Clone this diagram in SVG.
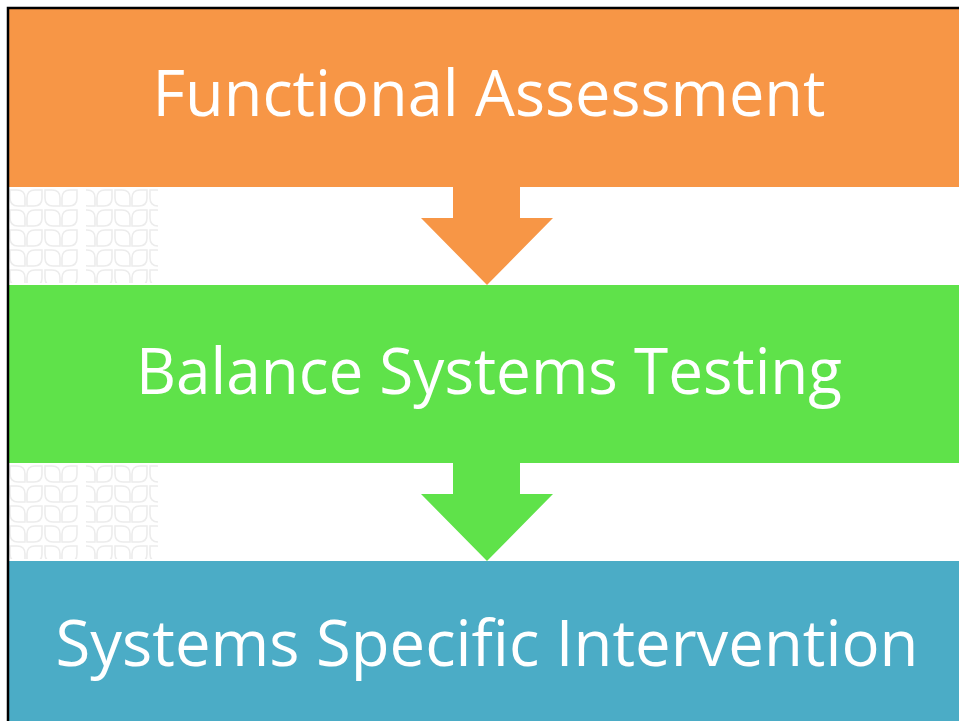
<svg xmlns="http://www.w3.org/2000/svg" width="959" height="721" viewBox="0 0 959 721">
  <style>
    .label { font-family: "Open Sans", "Noto Sans", "Liberation Sans", sans-serif; font-size: 64px; fill: #ffffff; text-anchor: middle; }
    .leaf { fill: none; stroke: #ececec; stroke-width: 1.6; }
  </style>
  <defs>
    <pattern id="leaves" x="9" y="188" width="35" height="20" patternUnits="userSpaceOnUse">
      <path class="leaf" d="M1,2 L8,2 Q16,2 16,10 L16,18 L9,18 Q1,18 1,10 Z"/>
      <path class="leaf" d="M18,10 Q18,2 26,2 L33,2 L33,10 Q33,18 25,18 L18,18 Z"/>
    </pattern>
    <pattern id="leaves2" x="9" y="464" width="35" height="20" patternUnits="userSpaceOnUse">
      <path class="leaf" d="M1,2 L8,2 Q16,2 16,10 L16,18 L9,18 Q1,18 1,10 Z"/>
      <path class="leaf" d="M18,10 Q18,2 26,2 L33,2 L33,10 Q33,18 25,18 L18,18 Z"/>
    </pattern>
  </defs>
  <rect width="959" height="721" fill="#ffffff"/>
  <rect x="9" y="188" width="70" height="95" fill="url(#leaves)"/>
  <rect x="86" y="188" width="72" height="95" fill="url(#leaves)"/>
  <rect x="9" y="464" width="70" height="95" fill="url(#leaves2)"/>
  <rect x="86" y="464" width="72" height="95" fill="url(#leaves2)"/>

  <g id="node-functional">
    <rect x="9" y="9" width="950" height="178" fill="#f79646"/>
    <text class="label" x="489" y="116" textLength="673" lengthAdjust="spacingAndGlyphs">Functional Assessment</text>
  </g>
  <g id="node-balance">
    <rect x="9" y="285" width="950" height="178" fill="#5fe24a"/>
    <text class="label" x="489" y="394" textLength="706" lengthAdjust="spacingAndGlyphs">Balance Systems Testing</text>
  </g>
  <g id="node-intervention">
    <rect x="9" y="561" width="950" height="160" fill="#4bacc6"/>
    <text class="label" x="487" y="666" textLength="863" lengthAdjust="spacingAndGlyphs">Systems Specific Intervention</text>
  </g>
  <g id="connectors">
    <polygon points="453,186 520,186 520,218 553,218 487,285 421,218 453,218" fill="#f79646"/>
    <polygon points="453,462 520,462 520,494 553,494 487,561 421,494 453,494" fill="#5fe24a"/>
  </g>
  <path d="M8,721 L8,8 L959,8" fill="none" stroke="#000000" stroke-width="2.5"/>
</svg>
